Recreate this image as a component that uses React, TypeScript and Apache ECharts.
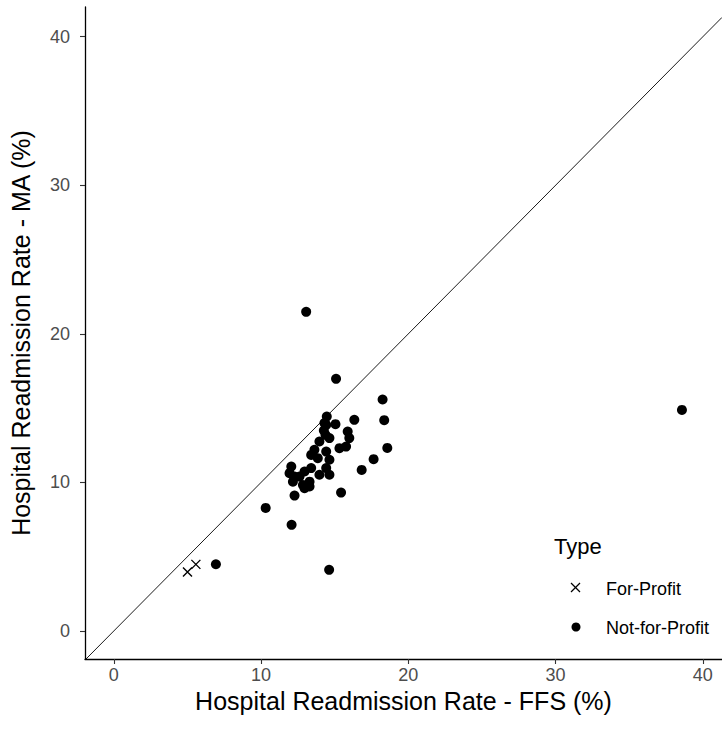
import React, { useEffect, useRef } from "react";
import * as echarts from "echarts";

const forProfitFFS = [5.0, 5.57];
const forProfitMA = [3.97, 4.48];

const notForProfitFFS = [
  6.93, 10.31, 12.07, 12.27, 15.43, 14.62, 13.06, 15.09, 18.25, 18.36, 18.57, 17.64, 16.83, 38.58,
  14.46, 14.42, 15.05, 15.88, 16.33, 15.99, 15.77, 15.32, 14.64, 14.37, 13.96, 13.62, 13.4, 14.42,
  14.64, 13.85, 14.42, 14.64, 13.96, 13.4, 12.95, 12.61, 13.29, 13.29, 12.05, 11.93, 12.27, 12.16,
  12.84, 12.95, 14.3, 14.26,
];
const notForProfitMA = [
  4.49, 8.28, 7.14, 9.11, 9.31, 4.11, 21.48, 16.97, 15.58, 14.19, 12.32, 11.56, 10.84, 14.88,
  14.43, 13.87, 13.92, 13.42, 14.21, 12.98, 12.41, 12.3, 12.98, 13.2, 12.75, 12.19, 11.85, 12.07,
  11.52, 11.63, 10.96, 10.51, 10.51, 10.96, 10.73, 10.39, 10.05, 9.72, 11.06, 10.62, 10.39, 10.05,
  9.83, 9.61, 13.99, 13.49,
];

const tickValues = [0, 10, 20, 30, 40];
const xRange = [-1.96, 41.3];
const yRange = [-1.89, 42.0];
const legendLabels = ["For-Profit", "Not-for-Profit"];

const FONT = "'Liberation Sans', Arial, sans-serif";
const CROSS = "path://M0,0L10,10M10,0L0,10";

export default function App() {
  const ref = useRef<HTMLDivElement>(null);
  useEffect(() => {
    if (!ref.current) return;
    const chart = echarts.init(ref.current, undefined, { renderer: "svg" });
    const diag = [
      [yRange[0], yRange[0]],
      [xRange[1], xRange[1]],
    ];
    chart.setOption({
      animation: false,
      backgroundColor: "#ffffff",
      textStyle: { fontFamily: FONT },
      grid: { left: 83, right: 0, top: 7, bottom: 75 },
      xAxis: {
        type: "value",
        min: xRange[0],
        max: xRange[1],
        name: "Hospital Readmission Rate - FFS (%)",
        nameLocation: "middle",
        nameGap: 18,
        nameTextStyle: { fontSize: 25, color: "#000", fontFamily: FONT, verticalAlign: "top" },
        splitLine: { show: false },
        axisLine: { onZero: false, lineStyle: { color: "#000", width: 1.3 } },
        axisTick: { customValues: tickValues, length: 5, lineStyle: { color: "#333", width: 1.1 } },
        axisLabel: {
          customValues: tickValues,
          color: "#4D4D4D",
          fontSize: 18,
          margin: 7,
          fontFamily: FONT,
        },
      },
      yAxis: {
        type: "value",
        min: yRange[0],
        max: yRange[1],
        name: "Hospital Readmission Rate - MA (%)",
        nameLocation: "middle",
        nameGap: 52,
        nameTextStyle: { fontSize: 25, color: "#000", fontFamily: FONT },
        splitLine: { show: false },
        axisLine: { show: true, onZero: false, lineStyle: { color: "#000", width: 1.3 } },
        axisTick: { show: true, customValues: tickValues, length: 5, lineStyle: { color: "#333", width: 1.1 } },
        axisLabel: {
          customValues: tickValues,
          color: "#4D4D4D",
          fontSize: 18,
          margin: 15,
          fontFamily: FONT,
        },
      },
      series: [
        {
          type: "line",
          data: diag,
          symbol: "none",
          silent: true,
          lineStyle: { color: "#000", width: 0.9 },
          z: 1,
        },
        {
          name: legendLabels[0],
          type: "scatter",
          data: forProfitFFS.map((x, i) => [x, forProfitMA[i]]),
          symbol: CROSS,
          symbolSize: 9,
          itemStyle: { color: "none", borderColor: "#000", borderWidth: 1.4, opacity: 1 },
          z: 3,
        },
        {
          name: legendLabels[1],
          type: "scatter",
          data: notForProfitFFS.map((x, i) => [x, notForProfitMA[i]]),
          symbol: "circle",
          symbolSize: 10,
          itemStyle: { color: "#000", opacity: 1 },
          z: 2,
        },
      ],
      graphic: [
        {
          type: "text",
          left: 554,
          top: 535,
          style: { text: "Type", font: `22px ${FONT}`, fill: "#000" },
        },
        {
          type: "line",
          shape: { x1: 571, y1: 583, x2: 580, y2: 592 },
          style: { stroke: "#000", lineWidth: 1.3 },
        },
        {
          type: "line",
          shape: { x1: 580, y1: 583, x2: 571, y2: 592 },
          style: { stroke: "#000", lineWidth: 1.3 },
        },
        {
          type: "text",
          left: 606,
          top: 580,
          style: { text: legendLabels[0], font: `18px ${FONT}`, fill: "#000" },
        },
        {
          type: "circle",
          shape: { cx: 576, cy: 627, r: 4.5 },
          style: { fill: "#000" },
        },
        {
          type: "text",
          left: 606,
          top: 619,
          style: { text: legendLabels[1], font: `18px ${FONT}`, fill: "#000" },
        },
      ],
    });
    return () => chart.dispose();
  }, []);
  return (
    <div
      ref={ref}
      style={{ position: "absolute", left: 0, top: 0, width: 722, height: 734 }}
    />
  );
}
